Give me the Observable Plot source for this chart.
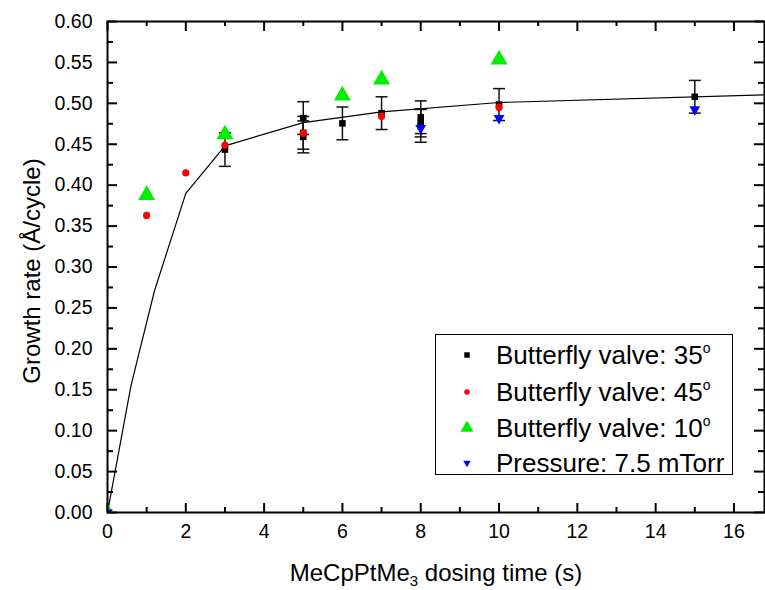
<!DOCTYPE html>
<html><head><meta charset="utf-8">
<script src="https://cdn.jsdelivr.net/npm/d3@7"></script>
<script src="https://cdn.jsdelivr.net/npm/@observablehq/plot@0.6"></script>
<style>
body{margin:0;background:#fff;}
#wrap{position:relative;width:765px;height:590px;font-family:"Liberation Sans",Arial,sans-serif;color:#000;overflow:hidden;background:#fff;}
#wrap svg{position:absolute;left:0;top:0;}
.ttl{position:absolute;white-space:nowrap;font-size:24px;line-height:24px;}
#legend{position:absolute;left:435px;top:334px;width:296px;height:139px;border:1px solid #000;background:#fff;}
.lrow{position:absolute;left:60px;font-size:26px;line-height:26px;white-space:nowrap;}
.lsym{position:absolute;}
</style></head><body><div id="wrap"></div>
<script>
// ---- data ----
const x35 = [0, 3, 5, 5, 5, 6, 7, 8, 8, 8, 10, 15];
const y35 = [0, 0.4435, 0.482, 0.464, 0.459, 0.4755, 0.488, 0.483, 0.476, 0.4725, 0.4985, 0.508];
const e35 = [0, 0.0205, 0.020, 0.020, 0.0195, 0.020, 0.020, 0.020, 0.017, 0.020, 0.0195, 0.020];

const x45 = [0, 1, 2, 3, 5, 7, 10];
const y45 = [0, 0.363, 0.415, 0.449, 0.4635, 0.484, 0.495];

const x10 = [0, 1, 3, 6, 7, 10];
const y10 = [0, 0.388, 0.462, 0.5095, 0.529, 0.5535];

const xP = [0, 8, 10, 15];
const yP = [0, 0.4696, 0.4818, 0.4925];

const fitX = [0, 0.6, 1.2, 2, 3, 5, 7, 10, 16.8];
const fitY = [0, 0.155, 0.271, 0.390, 0.448, 0.4765, 0.4895, 0.501, 0.5105];

const xMajor = [0, 2, 4, 6, 8, 10, 12, 14, 16];
const xMinor = [1, 3, 5, 7, 9, 11, 13, 15];
const yMajor = [0, 0.05, 0.10, 0.15, 0.20, 0.25, 0.30, 0.35, 0.40, 0.45, 0.50, 0.55, 0.60];
const yMinor = [0.025, 0.075, 0.125, 0.175, 0.225, 0.275, 0.325, 0.375, 0.425, 0.475, 0.525, 0.575];

const legendLabels = ["Butterfly valve: 35", "Butterfly valve: 45", "Butterfly valve: 10", "Pressure: 7.5 mTorr"];
const legendDegree = [true, true, true, false];

// ---- build ----
const zip = (xs, ys) => xs.map((x, i) => ({x, y: ys[i]}));
const s35 = x35.map((x, i) => ({x, y: y35[i], e: e35[i]}));
const s45 = zip(x45, y45), s10 = zip(x10, y10), sP = zip(xP, yP), fit = zip(fitX, fitY);

const W = 765, H = 590, mL = 107, mR = 1, mT = 21, mB = 78;
const fh = H - mT - mB, fw = W - mL - mR;
const capSym = {draw(ctx) { ctx.moveTo(-6, 0); ctx.lineTo(6, 0); }};
const FONT = '"Liberation Sans", Arial, sans-serif';

const chart = Plot.plot({
  width: W, height: H, marginLeft: mL, marginRight: mR, marginTop: mT, marginBottom: mB,
  style: {fontFamily: FONT, fontSize: "19.5px", background: "transparent", color: "#000"},
  x: {domain: [0, 16.78]},
  y: {domain: [0, 0.6]},
  marks: [
    Plot.axisX(xMajor, {tickSize: 0, tickPadding: 12, tickFormat: d => String(d), label: null, fontSize: 19.5}),
    Plot.axisY(yMajor, {tickSize: 0, tickPadding: 15, tickFormat: d3.format(".2f"), label: null, fontSize: 19.5}),
    // inward ticks, bottom/top
    Plot.ruleX(xMajor, {x: d => d, insetTop: fh - 9, strokeWidth: 2}),
    Plot.ruleX(xMinor, {x: d => d, insetTop: fh - 5, strokeWidth: 2}),
    Plot.ruleX(xMajor, {x: d => d, insetBottom: fh - 10, strokeWidth: 2}),
    Plot.ruleX(xMinor, {x: d => d, insetBottom: fh - 5, strokeWidth: 2}),
    // inward ticks, left/right
    Plot.ruleY(yMajor, {y: d => d, insetRight: fw - 10, strokeWidth: 2}),
    Plot.ruleY(yMinor, {y: d => d, insetRight: fw - 6, strokeWidth: 2}),
    Plot.ruleY(yMajor, {y: d => d, insetLeft: fw - 10, strokeWidth: 2}),
    Plot.ruleY(yMinor, {y: d => d, insetLeft: fw - 6, strokeWidth: 2}),
    // fit curve
    Plot.line(fit, {x: "x", y: "y", stroke: "#000", strokeWidth: 1.2}),
    // error bars
    Plot.ruleX(s35.filter(d => d.e > 0), {x: "x", y1: d => d.y - d.e, y2: d => d.y + d.e, stroke: "#111", strokeWidth: 1.5}),
    Plot.dot(s35.filter(d => d.e > 0), {x: "x", y: d => d.y + d.e, symbol: capSym, stroke: "#111", strokeWidth: 1.5, fill: "none"}),
    Plot.dot(s35.filter(d => d.e > 0), {x: "x", y: d => d.y - d.e, symbol: capSym, stroke: "#111", strokeWidth: 1.5, fill: "none"}),
    // series
    Plot.dot(s35, {x: "x", y: "y", symbol: "square", fill: "#000", r: 3.7, clip: true}),
    Plot.dot(s45, {x: "x", y: "y", symbol: "circle", fill: "#ff0000", r: 3.6, clip: true}),
    Plot.dot(s10, {x: "x", y: "y", symbol: "triangle", fill: "#00ee00", r: 6.3, clip: true}),
    Plot.dot(sP, {x: "x", y: "y", symbol: "triangle", rotate: 180, fill: "#0000ff", r: 4.0, clip: true}),
    Plot.frame({stroke: "#000", strokeWidth: 2})
  ]
});

const wrap = document.getElementById("wrap");
wrap.appendChild(chart);

// axis titles
const yt = document.createElement("div");
yt.className = "ttl";
yt.textContent = "Growth rate (Å/cycle)";
yt.style.left = "32px"; yt.style.top = "271px";
yt.style.transform = "translate(-50%,-50%) rotate(-90deg)";
wrap.appendChild(yt);

const xt = document.createElement("div");
xt.className = "ttl";
xt.innerHTML = 'MeCpPtMe<span style="font-size:15px;position:relative;top:5px">3</span> dosing time (s)';
xt.style.left = "436px"; xt.style.top = "561px";
xt.style.transform = "translateX(-50%)";
wrap.appendChild(xt);

// legend
const leg = document.createElement("div");
leg.id = "legend";
wrap.appendChild(leg);
const rowCY = [20, 57, 93, 128];
const symDefs = [
  {type: d3.symbolSquare, size: 30, fill: "#000", rot: 0},
  {type: d3.symbolCircle, size: 24, fill: "#ff0000", rot: 0},
  {type: d3.symbolTriangle2, size: 120, fill: "#00ee00", rot: 0},
  {type: d3.symbolTriangle2, size: 40, fill: "#0000ff", rot: 180}
];
legendLabels.forEach((lab, i) => {
  const sv = d3.create("svg").attr("class", "lsym").attr("width", 24).attr("height", 24)
    .style("left", (31 - 12) + "px").style("top", (rowCY[i] - 12) + "px");
  sv.append("path").attr("d", d3.symbol(symDefs[i].type, symDefs[i].size)())
    .attr("transform", `translate(12,12) rotate(${symDefs[i].rot})`).attr("fill", symDefs[i].fill);
  leg.appendChild(sv.node());
  const t = document.createElement("div");
  t.className = "lrow";
  t.style.top = (rowCY[i] + 9 - 22) + "px";
  t.innerHTML = lab + (legendDegree[i] ? '<span style="font-size:14px;position:relative;top:-11px">o</span>' : "");
  leg.appendChild(t);
});
</script></body></html>
